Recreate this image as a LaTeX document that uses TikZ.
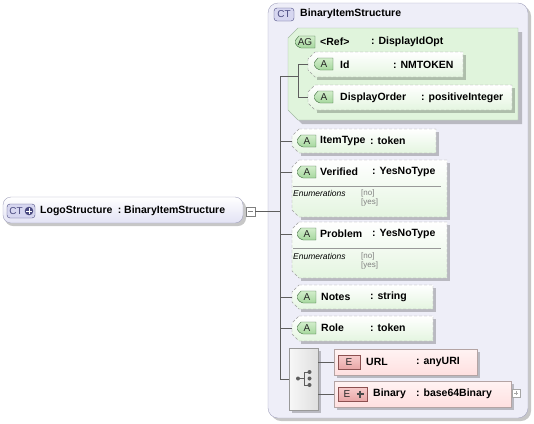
\documentclass[tikz,border=0pt]{standalone}
\usepackage{fontspec}
\setmainfont{Liberation Sans}
\usetikzlibrary{positioning}

\definecolor{ctfill}{HTML}{EEEEF8}
\definecolor{ctline}{HTML}{A3A3BD}
\definecolor{ctbadge}{HTML}{D6D6F0}
\definecolor{ctbadgeline}{HTML}{4A4A80}
\definecolor{agfill}{HTML}{E0F4DC}
\definecolor{agline}{HTML}{A4BCA4}
\definecolor{attrbot}{HTML}{E4F5E0}
\definecolor{abadgetop}{HTML}{D2EECB}
\definecolor{abadgebot}{HTML}{A6D79E}
\definecolor{abadgeline}{HTML}{3C6C3C}
\definecolor{elemtop}{HTML}{FFF3F3}
\definecolor{elembot}{HTML}{FFE0E0}
\definecolor{elemline}{HTML}{B4A4A4}
\definecolor{ebadgetop}{HTML}{F8CDCD}
\definecolor{ebadgebot}{HTML}{E8A6A6}
\definecolor{ebadgeline}{HTML}{8C5050}
\definecolor{wire}{HTML}{5E5E5E}

% attribute box: name, x0, y0, x1, y1 (left side chamfered)
\newcommand\attrbox[5]{%
  \fill[boxshadow] (#2+9,#3+3) -- (#4+3,#3+3) -- (#4+3,#5+3) -- (#2+9,#5+3) -- cycle;
  \draw[attr] (#2+7,#3) -- (#4,#3) -- (#4,#5) -- (#2+7,#5) -- (#2,#5-7) -- (#2,#3+7) -- cycle;
  \coordinate (#1) at (#2,#3+12);
}
% green A badge: x, y (top left)
\newcommand\abadge[2]{%
  \draw[abadgestyle] (#1+20,#2) -- (#1+5,#2) [rounded corners=2] -- (#1,#2+6) -- (#1+5,#2+12) [sharp corners] -- (#1+20,#2+12) -- cycle;
  \node[badgetext] at (#1+11,#2+6) {A};
}

\begin{document}
\begin{tikzpicture}[x=1pt,y=-1pt]
\tikzset{
% boxes
boxshadow/.style={fill=black,opacity=0.22},
attr/.style={draw=gray!75,dashed,dash pattern=on 3pt off 2pt,top color=white,bottom color=attrbot},
elem/.style={draw=elemline,top color=elemtop,bottom color=elembot},
abadgestyle/.style={draw=abadgeline,top color=abadgetop,bottom color=abadgebot},
ebadgestyle/.style={draw=ebadgeline,top color=ebadgetop,bottom color=ebadgebot},
ctbadgestyle/.style={draw=ctbadgeline,fill=ctbadge,rounded corners=3},
% texts
lbl/.style={anchor=west,inner sep=0,font=\fontsize{10.5}{12}\selectfont\bfseries},
badgetext/.style={inner sep=0,text=black!85,font=\fontsize{10}{11}\selectfont},
enum/.style={anchor=west,inner sep=0,font=\fontsize{8.5}{9}\selectfont\itshape},
enumval/.style={anchor=west,inner sep=0,text=gray,font=\fontsize{8}{9}\selectfont},
connector/.style={draw=wire,line width=0.5pt}
}
\useasboundingbox (0,0) rectangle (534,423);

% LogoStructure
\fill[boxshadow,rounded corners=8] (5,200) rectangle (246,226);
\draw[ctline,top color=white,bottom color=ctbadge!70,rounded corners=8] (3,197) rectangle (243,223);
\draw[ctbadgestyle] (7,204) rectangle (35,218);
\node[badgetext,text=ctbadgeline] at (16,211) {CT};
\fill[ctbadgeline] (29,211) circle (4.3);
\draw[white,line width=0.9pt] (26.4,211) -- (31.6,211) (29,208.4) -- (29,213.6);
\node[lbl] (logo) at (40,210.5) {LogoStructure\enspace:\ BinaryItemStructure};
\draw[gray,fill=white] (246,207) rectangle (255,216);
\draw[gray] (248,211.5) -- (253,211.5);
\coordinate (logo-minus) at (255,211.5);

% BinaryItemStructure
\fill[boxshadow,rounded corners=10] (271,6) rectangle (531,421);
\draw[ctline,fill=ctfill,rounded corners=10] (268,3) rectangle (528,418);
\draw[ctbadgestyle] (274,8) rectangle (294,21);
\node[badgetext,text=ctbadgeline] at (284,14.5) {CT};
\node[lbl] (cttitle) at (300,14) {BinaryItemStructure};

% attribute group
\fill[boxshadow] (302,32) -- (522,32) -- (522,124) -- (302,124) -- (292,114) -- (292,42) -- cycle;
\draw[agline,fill=agfill] (298,28) -- (518,28) -- (518,120) -- (298,120) -- (288,110) -- (288,38) -- cycle;
\draw[abadgestyle] (315,36) -- (299,36) [rounded corners=2] -- (294,42) -- (299,48) [sharp corners] -- (315,48) -- cycle;
\node[badgetext] at (305,42) {AG};
\node[lbl] (ref) at (320,42) {<Ref>};
\node[lbl] (reftype) at (371,42) {: DisplayIdOpt};

\attrbox{id}{308}{52}{463}{77}
\abadge{313}{58}
\node[lbl] (idname) at (340,64.5) {Id};
\node[lbl] (idtype) at (393,64.5) {: NMTOKEN};

\attrbox{disporder}{308}{85}{512}{110}
\abadge{313}{91}
\node[lbl] (dispname) at (340,97.5) {DisplayOrder};
\node[lbl] (disptype) at (421,97.5) {: positiveInteger};

% attributes
\attrbox{itemtype}{292}{129}{436}{153}
\abadge{296}{135}
\node[lbl] (itemname) at (320,141) {ItemType};
\node[lbl] (itemtypetype) at (370,141) {: token};

\attrbox{verified}{292}{160}{447}{217}
\abadge{296}{166}
\node[lbl] (verifname) at (320,172) {Verified};
\node[lbl] (veriftype) at (372,172) {: YesNoType};
\draw[gray!80] (293,186) -- (441,186);
\node[enum] (verifenum) at (293,193) {Enumerations};
\node[enumval] (verifno) at (361,193) {[no]};
\node[enumval] (verifyes) at (361,202.5) {[yes]};

\attrbox{problem}{292}{222}{447}{278}
\abadge{296}{228}
\node[lbl] (probname) at (320,234) {Problem};
\node[lbl] (probtype) at (372,234) {: YesNoType};
\draw[gray!80] (293,248) -- (441,248);
\node[enum] (probenum) at (293,256) {Enumerations};
\node[enumval] (probno) at (361,256) {[no]};
\node[enumval] (probyes) at (361,265.5) {[yes]};

\attrbox{notes}{292}{285}{433}{309}
\abadge{296}{291}
\node[lbl] (notesname) at (321,297) {Notes};
\node[lbl] (notestype) at (370,297) {: string};

\attrbox{role}{292}{316}{433}{341}
\abadge{296}{322}
\node[lbl] (rolename) at (321,328) {Role};
\node[lbl] (roletype) at (370,328) {: token};

% sequence
\fill[boxshadow] (292,351) rectangle (321,413);
\node[draw=gray!80,left color=gray!6,right color=gray!25,minimum width=29,minimum height=62,inner sep=0] (seq) at (303.5,379) {};
\fill[wire] (298,378.5) circle (2) (309.5,372) circle (2) (309.5,378.5) circle (2) (309.5,385) circle (2);
\draw[wire] (298,378.5) -- (304,378.5) (304,372) -- (304,385) (304,372) -- (309.5,372) (304,385) -- (309.5,385);

% elements
\fill[boxshadow] (337,352) rectangle (480,378);
\draw[elem] (334,349) rectangle (477,375);
\draw[ebadgestyle] (338,355) rectangle (360,369);
\node[badgetext] at (349,362) {E};
\node[lbl] (urlname) at (366,362) {URL};
\node[lbl] (urltype) at (416,362) {: anyURI};
\coordinate (url) at (334,362);

\fill[boxshadow] (337,384) rectangle (514,410);
\draw[elem] (334,381) rectangle (511,407);
\draw[ebadgestyle] (338,387) rectangle (367,401);
\node[badgetext] at (347,394) {E};
\draw[wire!80!black,line width=1.6pt] (356.5,394) -- (363.5,394) (360,390.5) -- (360,397.5);
\node[lbl] (binname) at (373,394) {Binary};
\node[lbl] (bintype) at (416,394) {: base64Binary};
\coordinate (binary) at (334,394);
\draw[gray!70,fill=white] (512,389) rectangle (520,397);
\draw[gray!70] (514,393) -- (518,393) (516,391) -- (516,395);

% The Tree
\coordinate (trunk-top) at (280,76);
\coordinate (trunk-bot) at (280,379);
\coordinate (ag-top) at (298,64);
\coordinate (ag-bot) at (298,97);
\draw[connector] (logo-minus) -- (280,211.5);
\draw[connector] (trunk-top) -- (trunk-bot) -- (seq.west);
\draw[connector] (trunk-top) -- (298,76);
\draw[connector] (id) -- (ag-top) -- (ag-bot) -- (disporder);
\foreach \a in {itemtype,verified,problem,notes,role}
  \draw[connector] (\a) -- (\a -| trunk-top);
\draw[connector] (seq.east |- url) -- (url);
\draw[connector] (seq.east |- binary) -- (binary);
\end{tikzpicture}
\end{document}
